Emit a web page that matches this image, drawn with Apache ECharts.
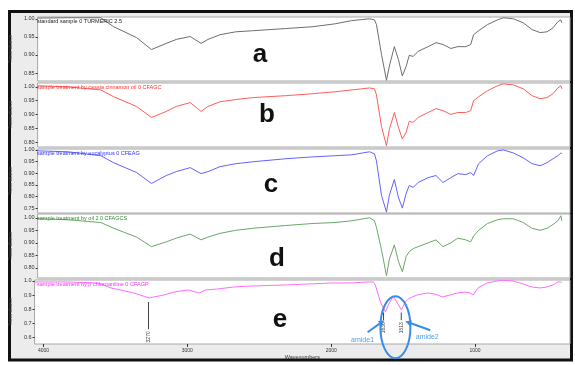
<!DOCTYPE html>
<html>
<head>
<meta charset="utf-8">
<script src="https://cdn.jsdelivr.net/npm/echarts@6/dist/echarts.min.js"></script>
<style>
  html, body { margin: 0; padding: 0; background: #fff; }
  #chart { width: 575px; height: 365px; }
</style>
</head>
<body>
<div id="chart"></div>
<script>
// FTIR spectra, x = wavenumber (cm-1), one panel per sample
const wavenumbers = [4060, 3850, 3620, 3530, 3370, 3266, 3162, 3092, 2995, 2919, 2871, 2787, 2677, 2559, 2330,
  2143, 1984, 1866, 1741, 1707, 1693, 1658, 1623, 1603, 1568, 1540, 1512, 1485, 1464, 1436,
  1402, 1332, 1277, 1228, 1173, 1124, 1069, 1034, 1014, 979, 917, 847, 806, 736, 667,
  605, 549, 501, 459, 425, 404, 397]

const sampleA = [1.002, 1.003, 1.003, 0.978, 0.948, 0.915, 0.932, 0.943, 0.951, 0.932, 0.943, 0.956, 0.964, 0.967, 0.973,
  0.978, 0.986, 0.995, 1.000, 0.997, 0.984, 0.902, 0.830, 0.869, 0.923, 0.888, 0.842, 0.869, 0.899, 0.896,
  0.910, 0.923, 0.934, 0.929, 0.918, 0.923, 0.923, 0.929, 0.956, 0.967, 0.984, 0.997, 1.003, 1.000, 0.989,
  0.970, 0.962, 0.964, 0.975, 0.992, 0.997, 0.989]
const sampleB = [1.004, 1.000, 0.989, 0.964, 0.929, 0.889, 0.911, 0.929, 0.943, 0.911, 0.929, 0.946, 0.954, 0.961, 0.968,
  0.975, 0.982, 0.989, 0.996, 0.993, 0.971, 0.857, 0.786, 0.846, 0.907, 0.854, 0.811, 0.836, 0.875, 0.871,
  0.889, 0.907, 0.921, 0.914, 0.900, 0.907, 0.907, 0.914, 0.950, 0.964, 0.986, 1.004, 1.011, 1.007, 0.993,
  0.968, 0.957, 0.961, 0.975, 0.996, 1.004, 0.993]
const sampleC = [0.996, 0.992, 0.975, 0.945, 0.903, 0.856, 0.890, 0.907, 0.924, 0.898, 0.907, 0.928, 0.941, 0.949, 0.962,
  0.970, 0.975, 0.979, 0.992, 0.983, 0.953, 0.805, 0.733, 0.805, 0.873, 0.797, 0.750, 0.814, 0.847, 0.839,
  0.860, 0.881, 0.890, 0.860, 0.881, 0.898, 0.894, 0.903, 0.890, 0.941, 0.975, 0.996, 1.000, 0.987, 0.966,
  0.941, 0.932, 0.945, 0.962, 0.975, 0.987, 0.983]
const sampleD = [0.996, 0.992, 0.981, 0.958, 0.923, 0.885, 0.904, 0.919, 0.935, 0.912, 0.923, 0.938, 0.950, 0.958, 0.969,
  0.977, 0.981, 0.988, 1.000, 0.988, 0.962, 0.873, 0.769, 0.835, 0.892, 0.827, 0.785, 0.846, 0.865, 0.877,
  0.885, 0.900, 0.912, 0.885, 0.900, 0.919, 0.912, 0.904, 0.927, 0.950, 0.977, 0.992, 0.996, 0.996, 0.981,
  0.958, 0.950, 0.958, 0.973, 0.988, 1.008, 0.988]
const sampleE = [0.993, 0.993, 0.986, 0.950, 0.914, 0.879, 0.900, 0.921, 0.936, 0.914, 0.936, 0.943, 0.957, 0.964, 0.971,
  0.979, 0.986, 0.986, 0.993, 0.993, 0.971, 0.850, 0.779, 0.829, 0.893, 0.843, 0.793, 0.850, 0.871, 0.886,
  0.900, 0.914, 0.907, 0.886, 0.900, 0.914, 0.921, 0.914, 0.900, 0.950, 0.986, 1.000, 1.005, 1.000, 0.979,
  0.957, 0.950, 0.957, 0.971, 0.993, 0.993, 0.986]

const sampleNames = [
  'standard sample 0 TURMERIC 2.5',
  'sample treatment by cassia cinnamon oil 0 CFAGC',
  'sample treatment by eucalyptus 0 CFEAG',
  'sample treatment by oil 2 0 CFAGCS',
  'sample treatment by p chloroaniline 0 CFAGP'
]
const panelLetters = ['a', 'b', 'c', 'd', 'e']

const yMins = [0.828, 0.782, 0.729, 0.760, 0.550]
const yMaxs = [1.005, 1.014, 1.004, 1.015, 1.007]
const yTicks = [
  [0.85, 0.90, 0.95, 1.00],
  [0.80, 0.85, 0.90, 0.95, 1.00],
  [0.75, 0.80, 0.85, 0.90, 0.95, 1.00],
  [0.80, 0.85, 0.90, 0.95, 1.00],
  [0.6, 0.7, 0.8, 0.9, 1.0]
]
const xTicks = [4000, 3000, 2000, 1000]

// peak marks on the last panel: [wavenumber, line top, line bottom]
const peakMarks = [[3270, 0.85, 0.655], [1636, 0.775, 0.72], [1513, 0.775, 0.72]]
const amideBands = [[1636, 1513, 0.72]]

const allSamples = [sampleA, sampleB, sampleC, sampleD, sampleE]
const colors = ['#6e6e6e', '#ff5c5c', '#6262ff', '#67a867', '#ff6cff']
const labelColors = ['#222', '#ff3030', '#3030ff', '#2f8a2f', '#ff30ff']
const tops = [17, 83, 149, 214, 280]
const PANEL_H = 64
const FONT = 'Liberation Sans, Arial, sans-serif'
const BLUE = '#3a8de6'

const chart = echarts.init(document.getElementById('chart'))

const grids = tops.map(t => ({
  left: 33, right: 5, top: t, height: PANEL_H,
  show: true, backgroundColor: '#fff', borderColor: '#a8a8a8', borderWidth: 1
}))

const xAxes = tops.map((t, i) => {
  const last = i === tops.length - 1
  return {
    type: 'value', gridIndex: i, inverse: true, min: 340, max: 4062,
    splitLine: { show: false },
    axisLine: { show: false },
    axisTick: { show: last, customValues: xTicks, length: 3, lineStyle: { color: '#333' } },
    axisLabel: { show: last, customValues: xTicks, fontSize: 5, color: '#333', margin: 4, fontFamily: FONT, formatter: v => String(v) },
    name: last ? 'Wavenumbers' : '', nameLocation: 'middle', nameGap: 10,
    nameTextStyle: { fontSize: 5.5, color: '#333', fontFamily: FONT }
  }
})

const yAxes = tops.map((t, i) => ({
  type: 'value', gridIndex: i, min: yMins[i], max: yMaxs[i],
  splitLine: { show: false },
  axisLine: { show: false },
  axisTick: { show: true, customValues: yTicks[i], length: 2, lineStyle: { color: '#333' } },
  axisLabel: {
    customValues: yTicks[i], fontSize: 5.5, color: '#333', margin: 3, fontFamily: FONT,
    formatter: v => v.toFixed(i === 4 ? 1 : 2)
  },
  name: 'Transmittance', nameLocation: 'middle', nameGap: 15, nameRotate: 90,
  nameTextStyle: { fontSize: 4.5, color: '#444', fontFamily: FONT }
}))

const lineSeries = allSamples.map((vals, i) => ({
  type: 'line', xAxisIndex: i, yAxisIndex: i,
  data: wavenumbers.map((w, k) => [w, vals[k]]),
  showSymbol: false,
  lineStyle: { color: colors[i], width: 1 },
  z: 3
}))

const peakSeries = {
  type: 'custom', xAxisIndex: 4, yAxisIndex: 4, clip: false, z: 4,
  data: peakMarks,
  renderItem(params, api) {
    const p1 = api.coord([api.value(0), api.value(1)])
    const p2 = api.coord([api.value(0), api.value(2)])
    return {
      type: 'group', children: [
        { type: 'line', shape: { x1: p1[0], y1: p1[1], x2: p2[0], y2: p2[1] }, style: { stroke: '#444', lineWidth: 1 } },
        {
          type: 'text', x: p2[0], y: p2[1] + 2, rotation: Math.PI / 2,
          style: { text: String(api.value(0)), align: 'right', verticalAlign: 'middle', fontSize: 5, fill: '#444', fontFamily: FONT }
        }
      ]
    }
  }
}

function arrow(tail, tip) {
  const ang = Math.atan2(tip[1] - tail[1], tip[0] - tail[0])
  const L = 6, W = 3
  const bx = tip[0] - L * Math.cos(ang), by = tip[1] - L * Math.sin(ang)
  return [
    { type: 'line', shape: { x1: tail[0], y1: tail[1], x2: bx, y2: by }, style: { stroke: BLUE, lineWidth: 2 } },
    {
      type: 'polygon',
      shape: { points: [tip, [bx - W * Math.sin(ang), by + W * Math.cos(ang)], [bx + W * Math.sin(ang), by - W * Math.cos(ang)]] },
      style: { fill: BLUE }
    }
  ]
}

const amideSeries = {
  type: 'custom', xAxisIndex: 4, yAxisIndex: 4, clip: false, z: 5,
  data: amideBands,
  renderItem(params, api) {
    const a1 = api.coord([api.value(0), api.value(2)])
    const a2 = api.coord([api.value(1), api.value(2)])
    const cx = (a1[0] + a2[0]) / 2 + 3
    const cy = a1[1] + 7
    const tip1 = [a1[0] + 1, a1[1]]
    const tip2 = [a2[0] + 4, a2[1] + 1]
    return {
      type: 'group', children: [
        { type: 'ellipse', shape: { cx: cx, cy: cy, rx: 15, ry: 31 }, style: { fill: 'none', stroke: BLUE, lineWidth: 2 } },
        ...arrow([tip1[0] - 17, tip1[1] + 12], tip1),
        ...arrow([tip2[0] + 25, tip2[1] + 9], tip2),
        { type: 'text', x: tip1[0] - 22, y: tip1[1] + 20, style: { text: 'amide1', align: 'center', verticalAlign: 'middle', fontSize: 7, fill: '#4da0f0', fontFamily: FONT } },
        { type: 'text', x: tip2[0] + 22, y: tip2[1] + 16, style: { text: 'amide2', align: 'center', verticalAlign: 'middle', fontSize: 7, fill: '#4da0f0', fontFamily: FONT } }
      ]
    }
  }
}

const letterPos = [[260, 55], [267, 115], [271, 185], [277, 259], [280, 320]]

const graphics = [
  { type: 'rect', z: -100, shape: { x: 9.5, y: 11.5, width: 562, height: 348.5 }, style: { fill: '#ececec', stroke: '#111', lineWidth: 3 } }
]
panelLetters.forEach((l, i) => {
  graphics.push({
    type: 'text', x: letterPos[i][0], y: letterPos[i][1], z: 10,
    style: { text: l, fontSize: 26, fontWeight: 'bold', fill: '#111', align: 'center', verticalAlign: 'middle', fontFamily: FONT }
  })
  graphics.push({
    type: 'text', x: 37, y: tops[i] + 1, z: 10,
    style: { text: sampleNames[i], fontSize: 5.5, fill: labelColors[i], fontFamily: FONT }
  })
})

chart.setOption({
  animation: false,
  backgroundColor: '#fff',
  grid: grids,
  xAxis: xAxes,
  yAxis: yAxes,
  series: [...lineSeries, peakSeries, amideSeries],
  graphic: graphics
})
</script>
</body>
</html>
